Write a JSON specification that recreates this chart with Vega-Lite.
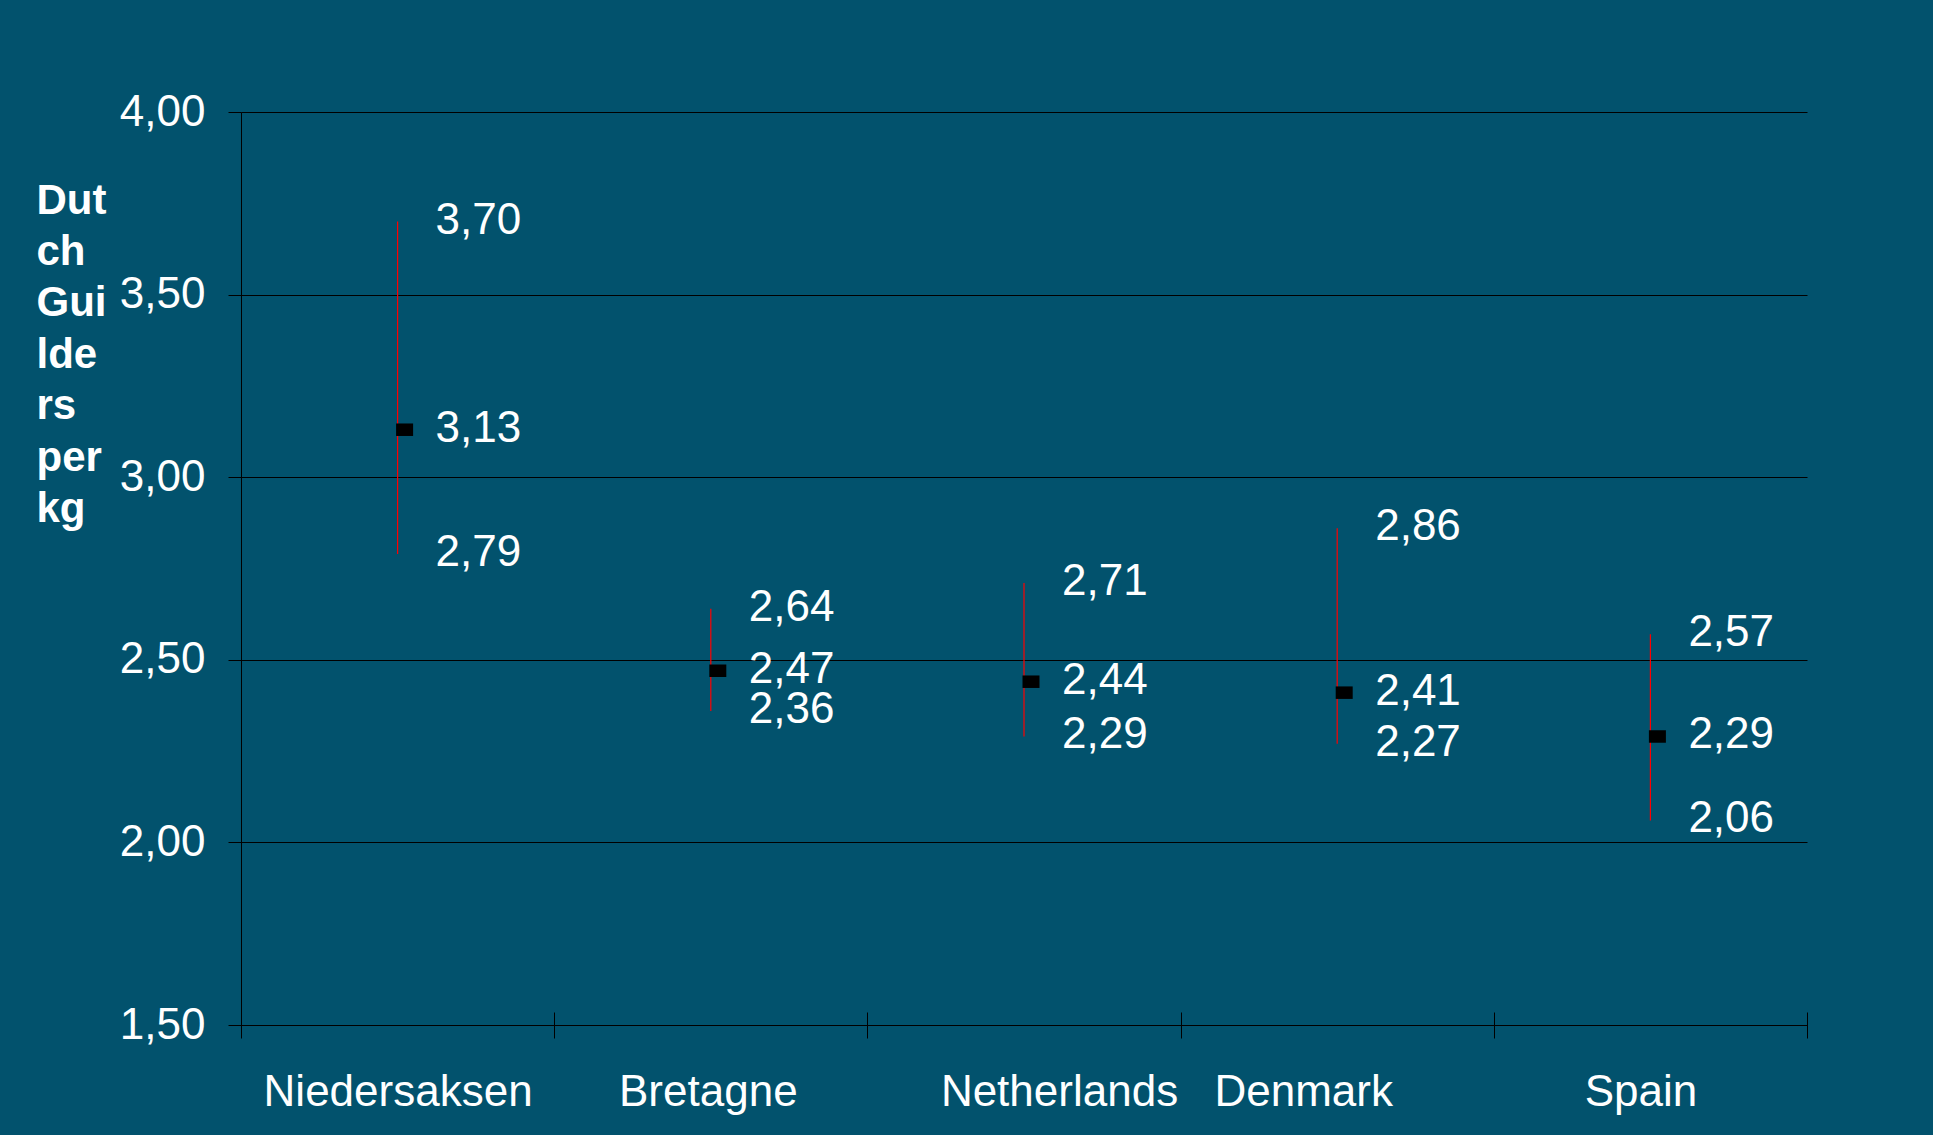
{
  "$schema": "https://vega.github.io/schema/vega-lite/v6.json",
  "width": 1566,
  "height": 913,
  "autosize": {"type": "none"},
  "padding": {"left": 241, "top": 112, "right": 126, "bottom": 110},
  "background": "#02526D",
  "config": {
    "view": {"stroke": null},
    "font": "Liberation Sans",
    "locale": {"number": {"decimal": ",", "thousands": ".", "grouping": [3], "currency": ["", " €"]}}
  },
  "data": {
    "values": [
      {"region": "Niedersaksen", "high": 3.70, "close": 3.13, "low": 2.79},
      {"region": "Bretagne", "high": 2.64, "close": 2.47, "low": 2.36},
      {"region": "Netherlands", "high": 2.71, "close": 2.44, "low": 2.29},
      {"region": "Denmark", "high": 2.86, "close": 2.41, "low": 2.27},
      {"region": "Spain", "high": 2.57, "close": 2.29, "low": 2.06}
    ]
  },
  "encoding": {
    "x": {
      "field": "region",
      "type": "nominal",
      "sort": null,
      "scale": {"paddingInner": 0, "paddingOuter": 0},
      "axis": {
        "title": null,
        "domain": false,
        "grid": false,
        "offset": -13,
        "tickSize": 26,
        "tickColor": "#000000",
        "tickWidth": 1,
        "tickBand": "extent",
        "labelAngle": 0,
        "labelColor": "#FFFFFF",
        "labelFont": "Liberation Sans",
        "labelFontSize": 44,
        "labelBaseline": "alphabetic",
        "labelPadding": 67,
        "labelLimit": 0,
        "labelOverlap": false,
        "labelOffset": {
          "condition": [
            {"test": "datum.value === 'Netherlands'", "value": 35},
            {"test": "datum.value === 'Denmark'", "value": -34},
            {"test": "datum.value === 'Spain'", "value": -10},
            {"test": "datum.value === 'Bretagne'", "value": -3}
          ],
          "value": 0
        }
      }
    }
  },
  "layer": [
    {
      "mark": {"type": "rule", "color": "#FF0000", "strokeWidth": 1.2},
      "encoding": {
        "y": {
          "field": "high",
          "type": "quantitative",
          "scale": {"domain": [1.5, 4], "nice": false, "zero": false},
          "axis": {
            "values": [1.5, 2, 2.5, 3, 3.5, 4],
            "format": ".2f",
            "labelColor": "#FFFFFF",
            "labelFont": "Liberation Sans",
            "labelFontSize": 44,
            "labelPadding": 23,
            "tickSize": 13,
            "tickColor": "#000000",
            "domainColor": "#000000",
            "grid": true,
            "gridColor": "#000000",
            "gridWidth": 1,
            "title": ["Dut", "ch", "Gui", "lde", "rs", "per", "kg"],
            "titleAngle": 0,
            "titleAlign": "left",
            "titleBaseline": "top",
            "titleX": -205,
            "titleY": 68,
            "titleFont": "Liberation Sans",
            "titleFontSize": 42,
            "titleFontWeight": "bold",
            "titleColor": "#FFFFFF",
            "titleLineHeight": 51.4
          }
        },
        "y2": {"field": "low"}
      }
    },
    {
      "mark": {
        "type": "point",
        "shape": "M-1,-0.735L1,-0.735L1,0.735L-1,0.735Z",
        "filled": true,
        "color": "#000000",
        "opacity": 1,
        "size": 289,
        "xOffset": 7,
        "strokeWidth": 0
      },
      "encoding": {
        "y": {"field": "close", "type": "quantitative"}
      }
    },
    {
      "mark": {"type": "text", "align": "left", "baseline": "middle", "dx": 38, "dy": -1, "fontSize": 44, "font": "Liberation Sans", "color": "#FFFFFF"},
      "encoding": {
        "y": {"field": "high", "type": "quantitative"},
        "text": {"field": "high", "type": "quantitative", "format": ".2f"}
      }
    },
    {
      "mark": {"type": "text", "align": "left", "baseline": "middle", "dx": 38, "dy": -1, "fontSize": 44, "font": "Liberation Sans", "color": "#FFFFFF"},
      "encoding": {
        "y": {"field": "close", "type": "quantitative"},
        "text": {"field": "close", "type": "quantitative", "format": ".2f"}
      }
    },
    {
      "mark": {"type": "text", "align": "left", "baseline": "middle", "dx": 38, "dy": -1, "fontSize": 44, "font": "Liberation Sans", "color": "#FFFFFF"},
      "encoding": {
        "y": {"field": "low", "type": "quantitative"},
        "text": {"field": "low", "type": "quantitative", "format": ".2f"}
      }
    }
  ]
}
